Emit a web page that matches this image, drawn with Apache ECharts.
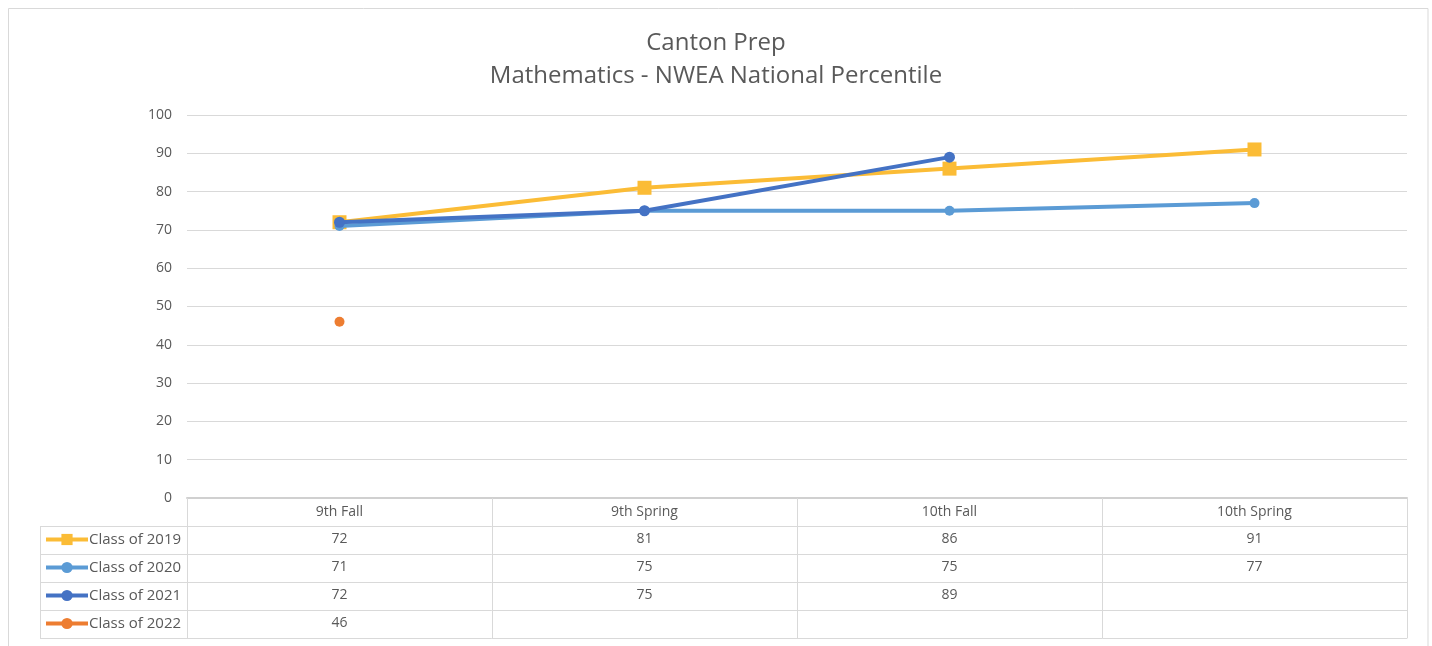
<!DOCTYPE html>
<html>
<head>
<meta charset="utf-8">
<script src="https://cdn.jsdelivr.net/npm/echarts@6/dist/echarts.min.js"></script>
<style>
html,body{margin:0;padding:0;background:#fff;}
#chart{width:1432px;height:646px;}
</style>
</head>
<body>
<div id="chart"></div>
<script>
// ---- data ----
var categories = ['9th Fall', '9th Spring', '10th Fall', '10th Spring'];
var seriesNames = ['Class of 2019', 'Class of 2020', 'Class of 2021', 'Class of 2022'];
var class2019 = [72, 81, 86, 91];
var class2020 = [71, 75, 75, 77];
var class2021 = [72, 75, 89, null];
var class2022 = [46, null, null, null];
var yTicks = [0, 10, 20, 30, 40, 50, 60, 70, 80, 90, 100];
var titleText = 'Canton Prep';
var subtitleText = 'Mathematics - NWEA National Percentile';

// ---- layout / style ----
var W = 1432, H = 646;
var gridLeft = 187, gridRight = 25, gridTop = 115, gridBottom = 148;
var rowH = 28;
var tableLeft = 40;
var textColor = '#595959';
var lineGray = '#d9d9d9';
var colors = ['#FBBC36', '#5B9BD5', '#4472C4', '#ED7D31'];
var fontFam = '"Open Sans", "Noto Sans", sans-serif';

var rows = [class2019, class2020, class2021, class2022];
var symbols = ['rect', 'circle', 'circle', 'circle'];
var symSizes = [14, 10, 11, 10];

var xAxes = [{
  type: 'category',
  data: categories,
  position: 'bottom',
  gridIndex: 0,
  axisLine: { show: true, lineStyle: { color: '#d0d0d0', width: 2 } },
  axisTick: { show: true, length: rowH * 5, lineStyle: { color: lineGray, width: 1 } },
  axisLabel: { color: textColor, fontSize: 14, fontFamily: fontFam, margin: 7 },
  splitLine: { show: false }
}];
for (var k = 0; k < 5; k++) {
  (function (k) {
    var rowData = rows[k];
    xAxes.push({
      type: 'category',
      data: categories,
      position: 'bottom',
      offset: rowH * (k + 1),
      gridIndex: 0,
      axisLine: { show: true, lineStyle: { color: lineGray, width: 1 } },
      axisTick: { show: false },
      axisLabel: {
        show: k < 4,
        color: textColor, fontSize: 14, fontFamily: fontFam, margin: 6,
        formatter: function (v, i) {
          var val = rowData ? rowData[i] : null;
          return (val === null || val === undefined) ? '' : String(val);
        }
      },
      splitLine: { show: false }
    });
  })(k);
}

var series = seriesNames.map(function (name, i) {
  return {
    name: name,
    type: 'line',
    data: rows[i],
    xAxisIndex: 0,
    yAxisIndex: 0,
    symbol: symbols[i],
    symbolSize: symSizes[i],
    showSymbol: true,
    connectNulls: false,
    itemStyle: { color: colors[i] },
    lineStyle: { color: colors[i], width: 4 },
    emphasis: { disabled: true },
    z: 2 + i
  };
});

var axisY = gridTop + (H - gridTop - gridBottom); // y pixel of x axis
var graphics = [];
// outer frame
graphics.push({ type: 'rect', shape: { x: 8.5, y: 8.5, width: W - 4 - 8.5, height: H + 20 }, style: { fill: 'none', stroke: '#d9d9d9', lineWidth: 1 }, silent: true, z: -10 });
// legend column borders
graphics.push({ type: 'line', shape: { x1: tableLeft + 0.5, y1: axisY + rowH, x2: tableLeft + 0.5, y2: axisY + rowH * 5 }, style: { stroke: lineGray, lineWidth: 1 }, silent: true });
for (var r = 1; r <= 5; r++) {
  graphics.push({ type: 'line', shape: { x1: tableLeft, y1: axisY + rowH * r + 0.5, x2: gridLeft, y2: axisY + rowH * r + 0.5 }, style: { stroke: lineGray, lineWidth: 1 }, silent: true });
}

var chart = echarts.init(document.getElementById('chart'), null, { renderer: 'canvas' });
chart.setOption({
  animation: false,
  backgroundColor: '#ffffff',
  title: [
    { text: titleText, left: 'center', top: 26, textStyle: { color: textColor, fontSize: 24, fontWeight: 'normal', fontFamily: fontFam } },
    { text: subtitleText, left: 'center', top: 59, textStyle: { color: textColor, fontSize: 24, fontWeight: 'normal', fontFamily: fontFam } }
  ],
  legend: {
    data: seriesNames,
    orient: 'vertical',
    left: 44,
    top: axisY + rowH + 6,
    itemWidth: 42,
    itemHeight: 14,
    itemGap: 13,
    padding: 0,
    selectedMode: false,
    lineStyle: { width: 4 },
    textStyle: { color: textColor, fontSize: 15, lineHeight: 15, fontFamily: fontFam, padding: [0, 0, 0, -4] }
  },
  grid: { left: gridLeft, right: gridRight, top: gridTop, bottom: gridBottom, containLabel: false },
  xAxis: xAxes,
  yAxis: {
    type: 'value',
    min: yTicks[0],
    max: yTicks[yTicks.length - 1],
    interval: yTicks[1] - yTicks[0],
    axisLine: { show: false },
    axisTick: { show: false },
    axisLabel: { color: textColor, fontSize: 14, fontFamily: fontFam, margin: 15 },
    splitLine: { show: true, lineStyle: { color: lineGray, width: 1 } }
  },
  graphic: graphics,
  series: series
});
</script>
</body>
</html>
